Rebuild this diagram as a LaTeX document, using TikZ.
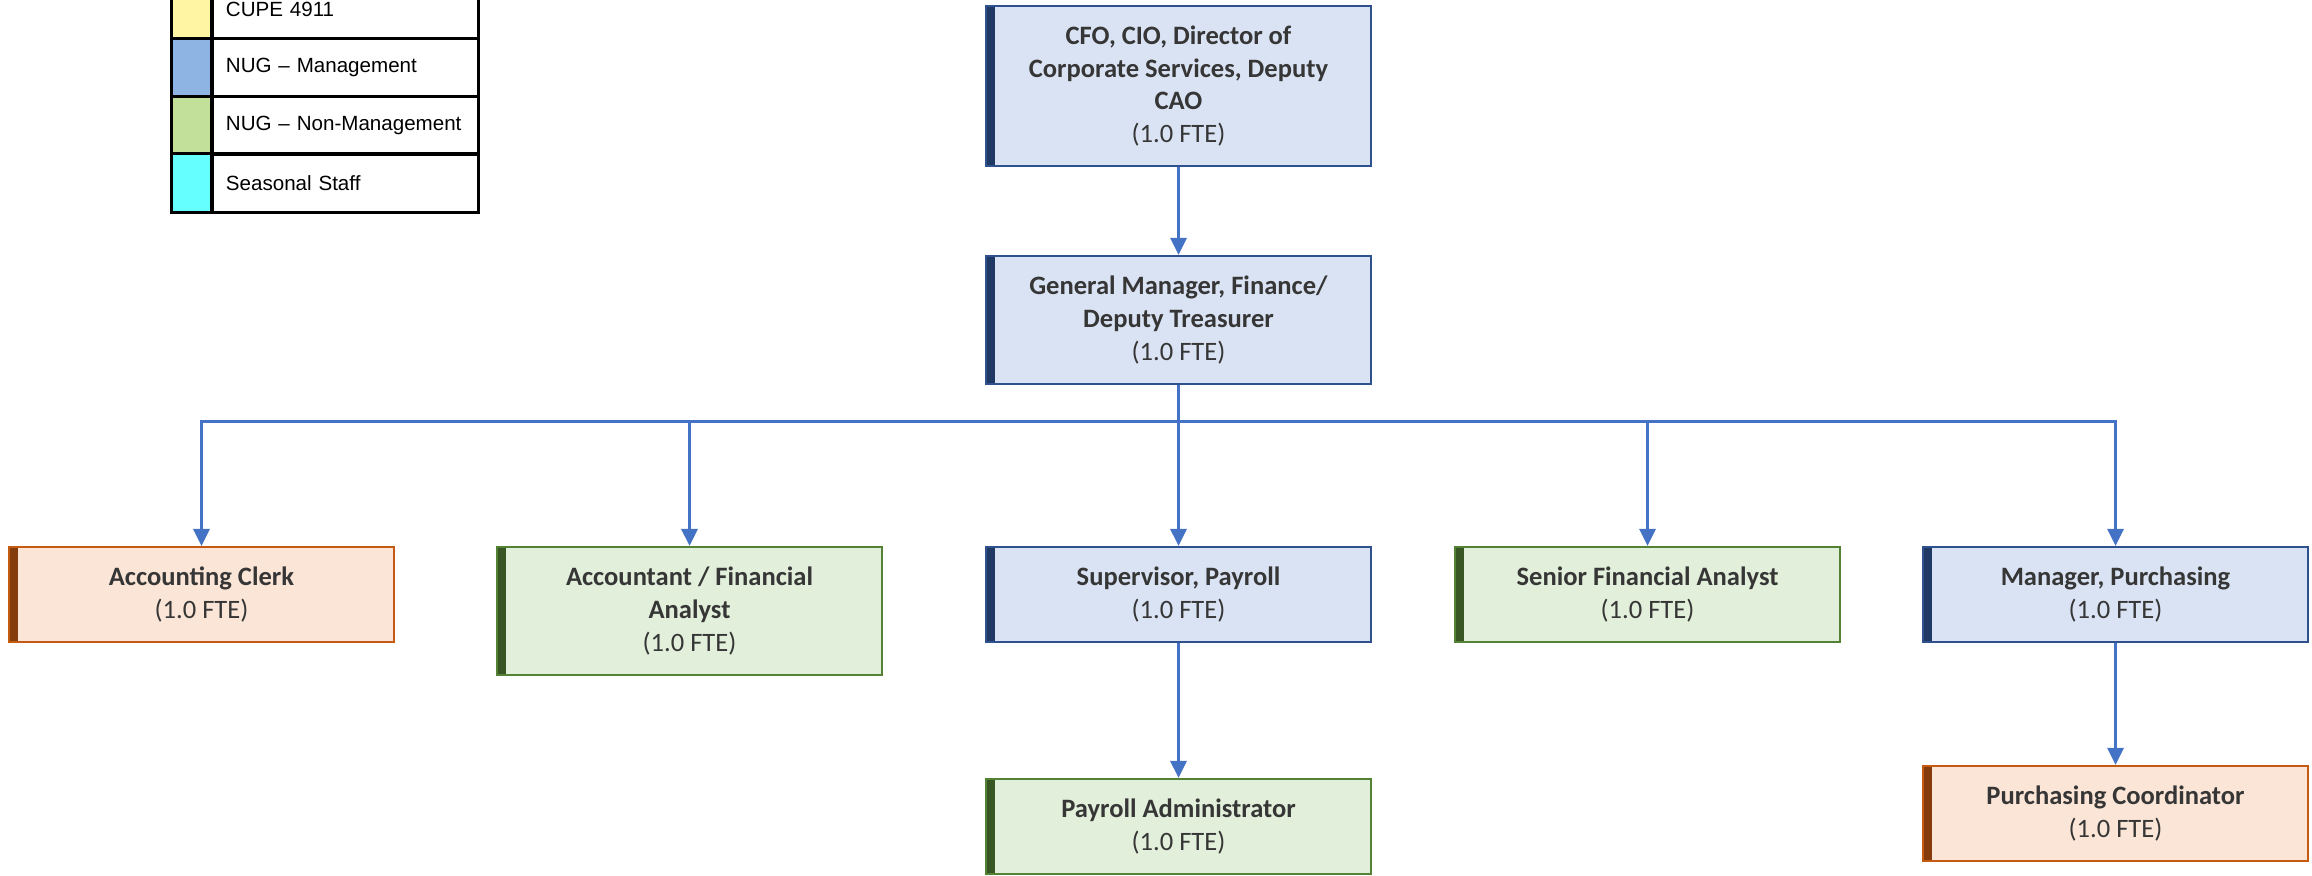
\documentclass[tikz,border=0pt]{standalone}
\usepackage{fontspec}
\setmainfont{Carlito}
\newfontfamily\legendfont{Liberation Sans}
\usepackage{xcolor}
\usetikzlibrary{arrows.meta}

\definecolor{mgmtfill}{HTML}{DAE3F3}
\definecolor{mgmtline}{HTML}{2F528F}
\definecolor{mgmtbar}{HTML}{203864}
\definecolor{nonmfill}{HTML}{E2EFDA}
\definecolor{nonmline}{HTML}{548235}
\definecolor{nonmbar}{HTML}{375623}
\definecolor{cupefill}{HTML}{FBE5D6}
\definecolor{cupeline}{HTML}{C55A11}
\definecolor{cupebar}{HTML}{843C0C}
\definecolor{linkblue}{HTML}{4472C4}
\definecolor{textgray}{HTML}{363636}
\definecolor{legyellow}{HTML}{FFF5A3}
\definecolor{legblue}{HTML}{8EB4E3}
\definecolor{leggreen}{HTML}{C3E09A}
\definecolor{legcyan}{HTML}{66FFFF}

\tikzset{
  rolebox/.style={draw, line width=0.6pt, minimum width=3.85cm, minimum height=0.95cm,
    align=center, inner sep=2pt, text=textgray, font=\fontsize{7.55}{9.3}\selectfont},
  mgmt/.style={rolebox, fill=mgmtfill, draw=mgmtline,
    path picture={\fill[mgmtbar] (path picture bounding box.south west) rectangle ([xshift=0.09cm]path picture bounding box.north west);}},
  nonm/.style={rolebox, fill=nonmfill, draw=nonmline,
    path picture={\fill[nonmbar] (path picture bounding box.south west) rectangle ([xshift=0.09cm]path picture bounding box.north west);}},
  cupe/.style={rolebox, fill=cupefill, draw=cupeline,
    path picture={\fill[cupebar] (path picture bounding box.south west) rectangle ([xshift=0.09cm]path picture bounding box.north west);}},
  link/.style={draw=linkblue, line width=0.85pt, -{Triangle[width=0.16cm,length=0.17cm]}},
  swatch/.style={draw=black, line width=0.85pt, minimum width=0.4cm, minimum height=0.58cm},
  legcell/.style={draw=black, line width=0.85pt, minimum height=0.58cm, text width=2.38cm,
    inner xsep=0.14cm, align=left, font=\legendfont\fontsize{5.85}{7}\selectfont}
}

\begin{document}
\begin{tikzpicture}[x=0.01cm,y=-0.01cm]
\useasboundingbox (0,0) rectangle (2312,875);

% legend
\node[swatch, fill=legyellow] (sw1) at (192,9) {};
\node[legcell] (lg1) at (345,9) {CUPE 4911};
\node[swatch, fill=legblue] (sw2) at (192,67.5) {};
\node[legcell] (lg2) at (345,67.5) {NUG – Management};
\node[swatch, fill=leggreen] (sw3) at (192,125.5) {};
\node[legcell] (lg3) at (345,125.5) {NUG – Non-Management};
\node[swatch, fill=legcyan] (sw4) at (192,183) {};
\node[legcell] (lg4) at (345,183) {Seasonal Staff};

% positions
\node[mgmt, minimum height=1.6cm] (cfo) at (1178.5,86) {\textbf{CFO, CIO, Director of}\\\textbf{Corporate Services, Deputy}\\\textbf{CAO}\\(1.0 FTE)};
\node[mgmt, minimum height=1.28cm] (gm) at (1178.5,320) {\textbf{General Manager, Finance/}\\\textbf{Deputy Treasurer}\\(1.0 FTE)};
\coordinate (bus) at (1178.5,421);
\node[cupe] (clerk) at (201.5,594.5) {\textbf{Accounting Clerk}\\(1.0 FTE)};
\node[nonm, minimum height=1.28cm] (acct) at (689.5,611) {\textbf{Accountant / Financial}\\\textbf{Analyst}\\(1.0 FTE)};
\node[mgmt] (sup) at (1178.5,594.5) {\textbf{Supervisor, Payroll}\\(1.0 FTE)};
\node[nonm] (senior) at (1647.5,594.5) {\textbf{Senior Financial Analyst}\\(1.0 FTE)};
\node[mgmt] (mgr) at (2115.5,594.5) {\textbf{Manager, Purchasing}\\(1.0 FTE)};
\node[nonm] (payadm) at (1178.5,826.5) {\textbf{Payroll Administrator}\\(1.0 FTE)};
\node[cupe] (pcoord) at (2115.5,813.5) {\textbf{Purchasing Coordinator}\\(1.0 FTE)};

% reporting lines
\draw[link] (cfo) -- (gm);
\draw[link] (gm) -- (bus) -| (clerk);
\draw[link] (gm) -- (bus) -| (acct);
\draw[link] (gm) -- (sup);
\draw[link] (gm) -- (bus) -| (senior);
\draw[link] (gm) -- (bus) -| (mgr);
\draw[link] (sup) -- (payadm);
\draw[link] (mgr) -- (pcoord);
\end{tikzpicture}
\end{document}
